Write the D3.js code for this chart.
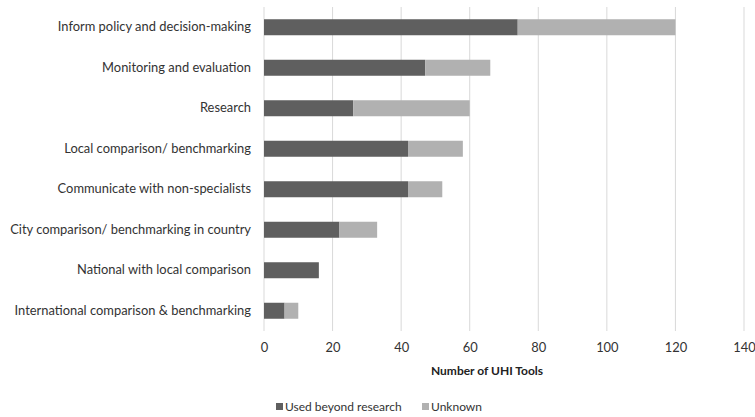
<!DOCTYPE html>
<html>
<head>
<meta charset="utf-8">
<script src="https://cdn.jsdelivr.net/npm/d3@7"></script>
<style>
  html, body { margin: 0; padding: 0; background: #fff; }
  svg { display: block; font-family: Lato, "Open Sans", sans-serif; }
</style>
</head>
<body>
<svg id="chart" width="755" height="417"></svg>
<script>
// Uses of UHI tools, split by whether the tool is used beyond research
const categories = [
  "Inform policy and decision-making",
  "Monitoring and evaluation",
  "Research",
  "Local comparison/ benchmarking",
  "Communicate with non-specialists",
  "City comparison/ benchmarking in country",
  "National with local comparison",
  "International comparison & benchmarking"
];
const usedBeyondResearch = [74, 47, 26, 42, 42, 22, 16, 6];
const unknown = [46, 19, 34, 16, 10, 11, 0, 4];
const seriesNames = ["Used beyond research", "Unknown"];
const xTicks = [0, 20, 40, 60, 80, 100, 120, 140];
const xTitle = "Number of UHI Tools";

const colors = { "Used beyond research": "#5f5f5f", "Unknown": "#b1b1b1" };
const textColor = "#333333";

const svg = d3.select("#chart");
const margin = { top: 7, right: 11, bottom: 86, left: 264 };
const width = 755 - margin.left - margin.right;
const height = 417 - margin.top - margin.bottom;

const g = svg.append("g").attr("transform", `translate(${margin.left},${margin.top})`);

const x = d3.scaleLinear().domain([0, 140]).range([0, width]);
const y = d3.scaleBand().domain(categories).range([0, height]).paddingInner(0.605).paddingOuter(0.3025);

// vertical gridlines
g.append("g")
  .selectAll("line")
  .data(xTicks)
  .join("line")
  .attr("x1", d => x(d)).attr("x2", d => x(d))
  .attr("y1", 0).attr("y2", height)
  .attr("stroke", "#d9d9d9")
  .attr("stroke-width", 1);

// stacked bars
const rows = categories.map((c, i) => ({
  category: c,
  "Used beyond research": usedBeyondResearch[i],
  "Unknown": unknown[i]
}));
const stacked = d3.stack().keys(seriesNames)(rows);

g.append("g")
  .selectAll("g")
  .data(stacked)
  .join("g")
  .attr("fill", d => colors[d.key])
  .selectAll("rect")
  .data(d => d)
  .join("rect")
  .attr("x", d => x(d[0]))
  .attr("width", d => x(d[1]) - x(d[0]))
  .attr("y", d => y(d.data.category))
  .attr("height", y.bandwidth());

// category labels
const yAxis = g.append("g")
  .call(d3.axisLeft(y).tickSize(0).tickPadding(13));
yAxis.select(".domain").remove();
yAxis.selectAll("text")
  .attr("fill", textColor)
  .style("font-size", "12.9px")
  .style("font-family", "Lato, 'Open Sans', sans-serif");

// value axis
const xAxis = g.append("g")
  .attr("transform", `translate(0,${height})`)
  .call(d3.axisBottom(x).tickValues(xTicks).tickSize(0).tickPadding(12));
xAxis.select(".domain").remove();
xAxis.selectAll("text")
  .attr("fill", textColor)
  .style("font-size", "12.9px")
  .style("font-family", "Lato, 'Open Sans', sans-serif");

// axis title
svg.append("text")
  .attr("x", 487)
  .attr("y", margin.top + height + 44)
  .attr("text-anchor", "middle")
  .attr("fill", "#222")
  .style("font-size", "12px")
  .style("font-weight", "bold")
  .text(xTitle);

// legend
const legendItems = [
  { name: seriesNames[0], x: 276 },
  { name: seriesNames[1], x: 422 }
];
const legend = svg.append("g");
legendItems.forEach(item => {
  legend.append("rect")
    .attr("x", item.x).attr("y", 403)
    .attr("width", 7).attr("height", 7)
    .attr("fill", colors[item.name]);
  legend.append("text")
    .attr("x", item.x + 9).attr("y", 411)
    .attr("fill", textColor)
    .style("font-size", "12px")
    .text(item.name);
});
</script>
</body>
</html>
